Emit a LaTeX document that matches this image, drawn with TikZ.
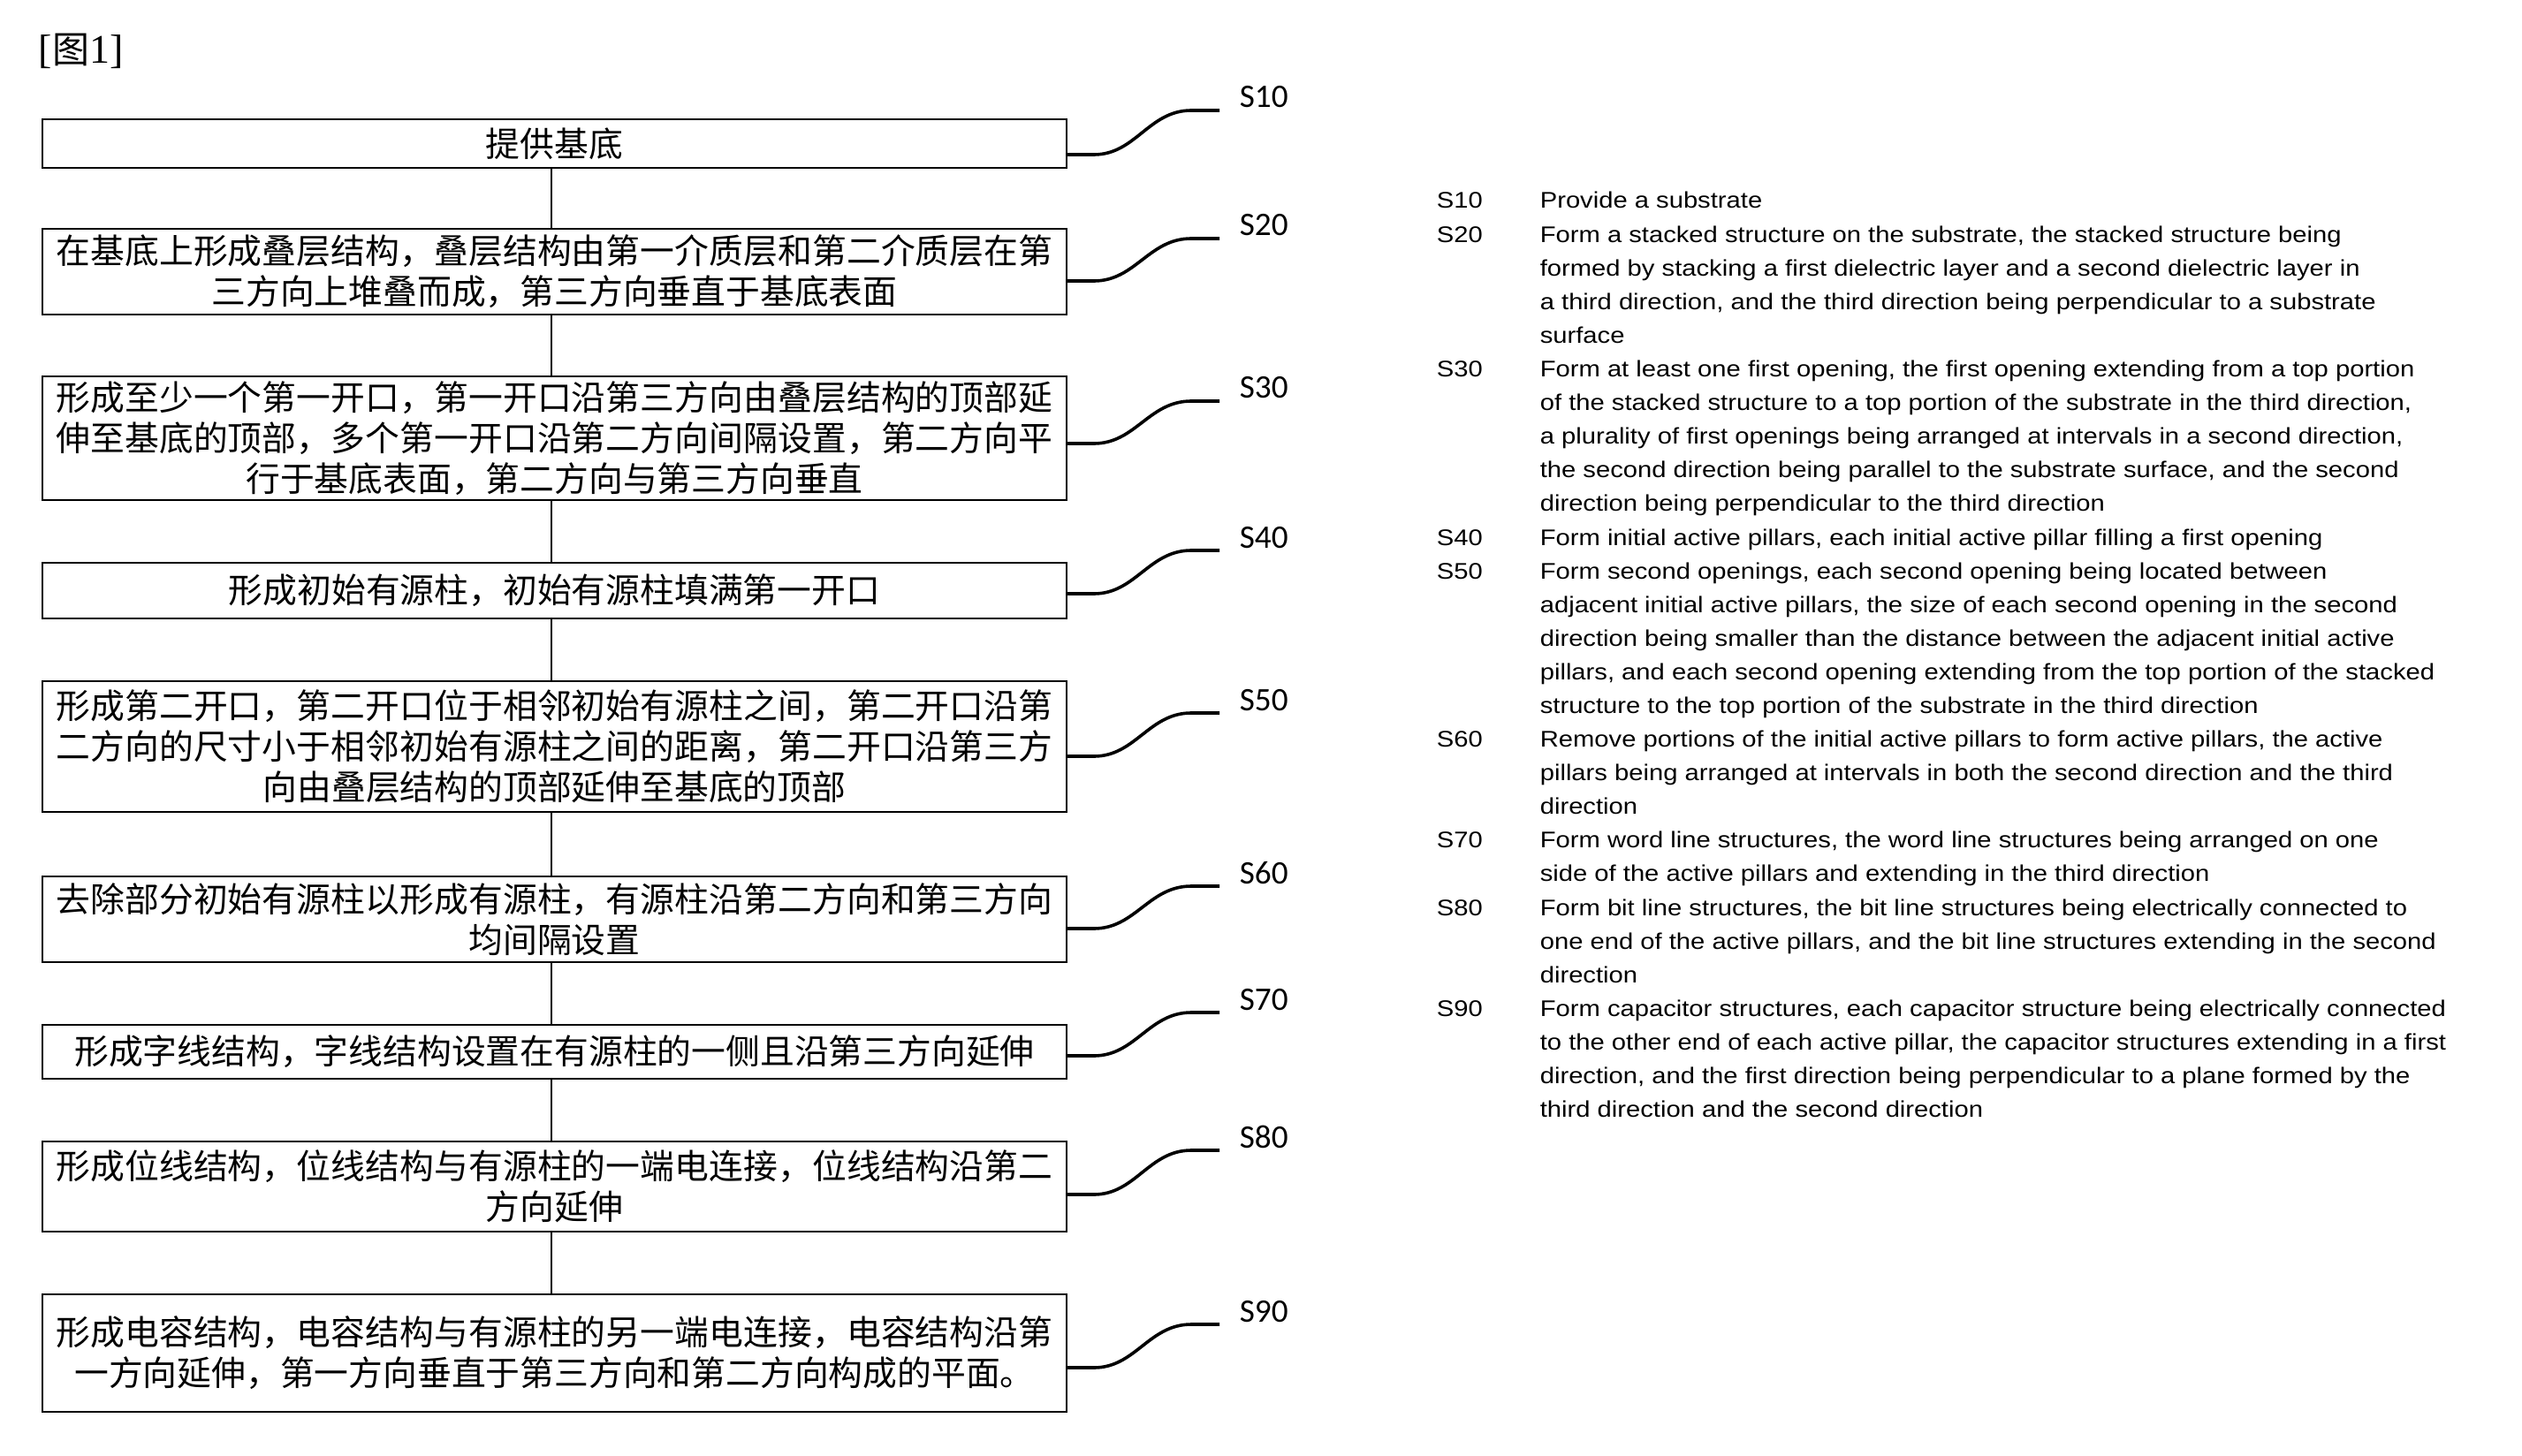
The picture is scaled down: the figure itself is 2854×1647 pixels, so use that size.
\documentclass[tikz,border=0pt]{standalone}
\usepackage{fontspec}
\setmainfont{Liberation Serif}
\newfontfamily\cjk{Noto Sans CJK SC}
\newfontfamily\rtext[FakeStretch=1.14]{Liberation Sans}
\newfontfamily\lab{Carlito}
\newlength\jw \setlength\jw{282pt}
\def\jline#1{\hbox to \jw{\jfirst#1\relax}}
\def\jfirst#1{#1\jloop}
\def\jloop#1{\ifx\relax#1\else\hfil#1\expandafter\jloop\fi}
\tikzset{
 stepbox/.style={draw, line width=0.5pt, minimum width=289.75pt, inner sep=0pt, anchor=north west, align=center, font={\cjk\fontsize{9.7pt}{11.5pt}\selectfont}},
 link/.style={line width=0.5pt},
 wave/.style={line width=0.9pt},
 slab/.style={anchor=base west, inner sep=0pt, font={\lab\fontsize{9.3pt}{11pt}\selectfont}},
 rlab/.style={anchor=base west, inner sep=0pt, font={\rtext\fontsize{6.4pt}{9.52pt}\selectfont}},
}
\newcommand\wavefrom[4]{%
 \coordinate (ws#4) at (0,#2);
 \coordinate (we#4) at (1380,#3);
 \draw[wave] (#1.east |- ws#4) -- (1238,#2) .. controls (1285,#2) and (1300,#3) .. (1348,#3) -- (we#4);
 \node[slab] (lab#4) at (1402,#3-3) {S#4};}
\newcommand\linkbox[2]{\draw[link] ([xshift=-1pt]#1.south) -- ([xshift=-1pt]#2.north);}
\begin{document}
\begin{tikzpicture}[x=0.25pt,y=-0.25pt]
\useasboundingbox (0,0) rectangle (2854,1647);
\fill[white] (0,0) rectangle (2854,1647);
\node[anchor=base west, inner sep=0pt, font=\fontsize{11.5pt}{13pt}\selectfont] (fig) at (43,72) {[{\cjk\fontsize{10.5pt}{13pt}\selectfont 图}1]};

\node[stepbox, minimum height=13.75pt] (s10) at (47,134) {提供基底};
\node[stepbox, minimum height=24.25pt] (s20) at (47,258) {\jline{在基底上形成叠层结构，叠层结构由第一介质层和第二介质层在第}\\三方向上堆叠而成，第三方向垂直于基底表面};
\node[stepbox, minimum height=35pt] (s30) at (47,425) {\jline{形成至少一个第一开口，第一开口沿第三方向由叠层结构的顶部延}\\\jline{伸至基底的顶部，多个第一开口沿第二方向间隔设置，第二方向平}\\行于基底表面，第二方向与第三方向垂直};
\node[stepbox, minimum height=15.75pt] (s40) at (47,636) {形成初始有源柱，初始有源柱填满第一开口};
\node[stepbox, minimum height=37pt] (s50) at (47,770) {\jline{形成第二开口，第二开口位于相邻初始有源柱之间，第二开口沿第}\\\jline{二方向的尺寸小于相邻初始有源柱之间的距离，第二开口沿第三方}\\向由叠层结构的顶部延伸至基底的顶部};
\node[stepbox, minimum height=24.25pt] (s60) at (47,991) {\jline{去除部分初始有源柱以形成有源柱，有源柱沿第二方向和第三方向}\\均间隔设置};
\node[stepbox, minimum height=15.25pt] (s70) at (47,1159) {形成字线结构，字线结构设置在有源柱的一侧且沿第三方向延伸};
\node[stepbox, minimum height=25.5pt] (s80) at (47,1291) {\jline{形成位线结构，位线结构与有源柱的一端电连接，位线结构沿第二}\\方向延伸};
\node[stepbox, minimum height=33.25pt] (s90) at (47,1464) {\jline{形成电容结构，电容结构与有源柱的另一端电连接，电容结构沿第}\\一方向延伸，第一方向垂直于第三方向和第二方向构成的平面。};

\linkbox{s10}{s20}
\linkbox{s20}{s30}
\linkbox{s30}{s40}
\linkbox{s40}{s50}
\linkbox{s50}{s60}
\linkbox{s60}{s70}
\linkbox{s70}{s80}
\linkbox{s80}{s90}

\wavefrom{s10}{175}{125}{10}
\wavefrom{s20}{318}{270}{20}
\wavefrom{s30}{502}{454}{30}
\wavefrom{s40}{672}{623}{40}
\wavefrom{s50}{856}{807}{50}
\wavefrom{s60}{1051}{1003}{60}
\wavefrom{s70}{1195}{1146}{70}
\wavefrom{s80}{1352}{1302}{80}
\wavefrom{s90}{1548}{1499}{90}

\node[rlab] (n10) at (1625,236) {S10};
\node[rlab] (d10) at (1742,236) {\vtop{\hbox{Provide a substrate}}};
\node[rlab] (n20) at (1625,274.1) {S20};
\node[rlab] (d20) at (1742,274.1) {\vtop{\hbox{Form a stacked structure on the substrate, the stacked structure being}\hbox{formed by stacking a first dielectric layer and a second dielectric layer in}\hbox{a third direction, and the third direction being perpendicular to a substrate}\hbox{surface}}};
\node[rlab] (n30) at (1625,426.5) {S30};
\node[rlab] (d30) at (1742,426.5) {\vtop{\hbox{Form at least one first opening, the first opening extending from a top portion}\hbox{of the stacked structure to a top portion of the substrate in the third direction,}\hbox{a plurality of first openings being arranged at intervals in a second direction,}\hbox{the second direction being parallel to the substrate surface, and the second}\hbox{direction being perpendicular to the third direction}}};
\node[rlab] (n40) at (1625,617) {S40};
\node[rlab] (d40) at (1742,617) {\vtop{\hbox{Form initial active pillars, each initial active pillar filling a first opening}}};
\node[rlab] (n50) at (1625,655.1) {S50};
\node[rlab] (d50) at (1742,655.1) {\vtop{\hbox{Form second openings, each second opening being located between}\hbox{adjacent initial active pillars, the size of each second opening in the second}\hbox{direction being smaller than the distance between the adjacent initial active}\hbox{pillars, and each second opening extending from the top portion of the stacked}\hbox{structure to the top portion of the substrate in the third direction}}};
\node[rlab] (n60) at (1625,845.6) {S60};
\node[rlab] (d60) at (1742,845.6) {\vtop{\hbox{Remove portions of the initial active pillars to form active pillars, the active}\hbox{pillars being arranged at intervals in both the second direction and the third}\hbox{direction}}};
\node[rlab] (n70) at (1625,959.9) {S70};
\node[rlab] (d70) at (1742,959.9) {\vtop{\hbox{Form word line structures, the word line structures being arranged on one}\hbox{side of the active pillars and extending in the third direction}}};
\node[rlab] (n80) at (1625,1036.1) {S80};
\node[rlab] (d80) at (1742,1036.1) {\vtop{\hbox{Form bit line structures, the bit line structures being electrically connected to}\hbox{one end of the active pillars, and the bit line structures extending in the second}\hbox{direction}}};
\node[rlab] (n90) at (1625,1150.4) {S90};
\node[rlab] (d90) at (1742,1150.4) {\vtop{\hbox{Form capacitor structures, each capacitor structure being electrically connected}\hbox{to the other end of each active pillar, the capacitor structures extending in a first}\hbox{direction, and the first direction being perpendicular to a plane formed by the}\hbox{third direction and the second direction}}};
\end{tikzpicture}
\end{document}
